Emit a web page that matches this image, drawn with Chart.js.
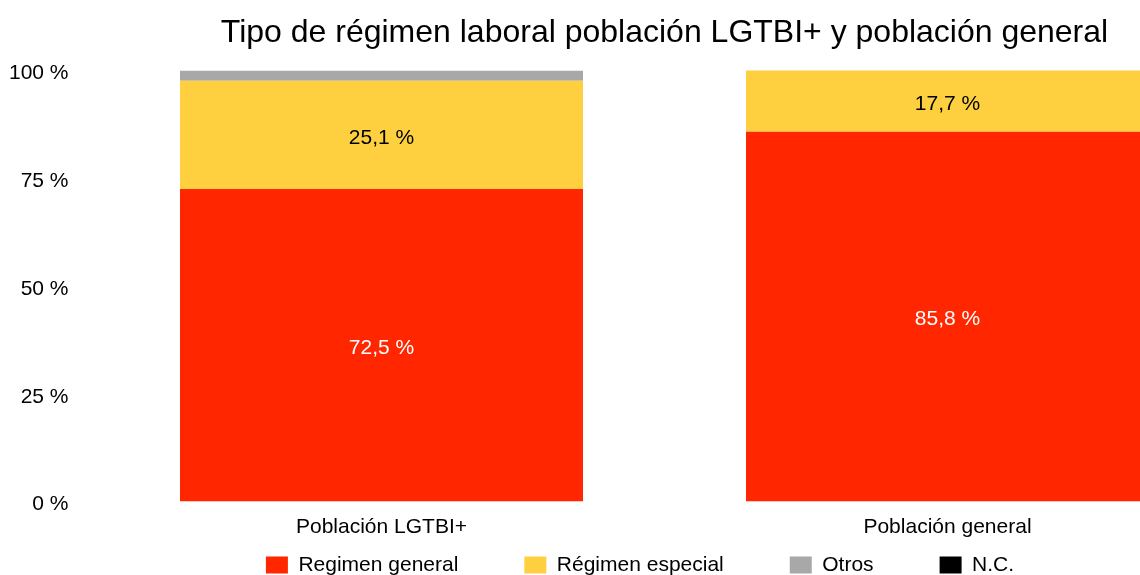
<!DOCTYPE html>
<html><head><meta charset="utf-8">
<script src="https://cdn.jsdelivr.net/npm/chart.js@4.4.0/dist/chart.umd.min.js"></script>
<style>html,body{margin:0;padding:0;overflow:hidden;background:#fff}#wrap{position:absolute;left:0;top:0;width:1280px;height:575px}</style>
</head><body><div id="wrap"><canvas id="c" width="1280" height="575"></canvas></div>
<script>
const categories = ['Población LGTBI+', 'Población general'];
const regimenGeneral = [72.5, 85.8];
const regimenEspecial = [25.1, 17.7];
const otros = [2.4, 0];
const noContesta = [0, 0];
const yTicks = [0, 25, 50, 75, 100];
const seriesNames = ['Regimen general', 'Régimen especial', 'Otros', 'N.C.'];
const titleText = 'Tipo de régimen laboral población LGTBI+ y población general';

const FONT = '"Liberation Sans", Arial, Helvetica, sans-serif';
const fmt = v => v.toFixed(1).replace('.', ',') + ' %';

const valueLabels = {
  id: 'valueLabels',
  afterDatasetsDraw(chart) {
    const {ctx, chartArea} = chart;
    ctx.save();
    ctx.font = '21px ' + FONT;
    ctx.textAlign = 'center';
    ctx.textBaseline = 'middle';
    chart.data.datasets.forEach((ds, di) => {
      const meta = chart.getDatasetMeta(di);
      if (meta.hidden) return;
      meta.data.forEach((bar, i) => {
        const v = ds.data[i];
        if (!v || v < 5) return;
        const top = Math.max(Math.min(bar.y, bar.base), chartArea.top);
        const bottom = Math.min(Math.max(bar.y, bar.base), chartArea.bottom);
        if (bottom - top < 10) return;
        ctx.fillStyle = ds.labelColor;
        ctx.fillText(fmt(v), bar.x, (top + bottom) / 2 + 3);
      });
    });
    ctx.restore();
  }
};

const legendPlacement = {
  id: 'legendPlacement',
  afterLayout(chart) {
    const lg = chart.legend;
    if (!lg) return;
    const pad = lg.options.labels.padding;
    const rowTop = lg.top + 16.5;
    lg.top = rowTop - pad;
    lg.height = lg.bottom - lg.top;
  }
};

new Chart(document.getElementById('c'), {
  type: 'bar',
  data: {
    labels: categories,
    datasets: [
      {label: seriesNames[0], data: regimenGeneral, backgroundColor: '#FF2600', labelColor: '#ffffff', clip: 0},
      {label: seriesNames[1], data: regimenEspecial, backgroundColor: '#FED03F', labelColor: '#000000', clip: 0},
      {label: seriesNames[2], data: otros, backgroundColor: '#A8A8A8', labelColor: '#000000', clip: 0},
      {label: seriesNames[3], data: noContesta, backgroundColor: '#000000', labelColor: '#ffffff', clip: 0}
    ]
  },
  options: {
    responsive: false,
    animation: false,
    devicePixelRatio: 1,
    layout: {padding: 0},
    datasets: {bar: {categoryPercentage: 0.8, barPercentage: 0.89, borderWidth: 0}},
    scales: {
      x: {
        stacked: true,
        afterFit: s => { s.height = 36.5; },
        grid: {display: false, drawTicks: false},
        border: {display: false},
        ticks: {padding: 13, color: '#000', font: {size: 21, family: FONT}}
      },
      y: {
        stacked: true, min: 0, max: 100,
        afterFit: s => { s.width = 98.5; },
        afterBuildTicks: s => { s.ticks = yTicks.map(v => ({value: v})); },
        grid: {display: false, drawTicks: false},
        border: {display: false},
        ticks: {padding: 30, labelOffset: 3, color: '#000', font: {size: 21, family: FONT}, callback: v => v + ' %'}
      },
      yR: {
        position: 'right', display: true,
        grid: {display: false, drawTicks: false},
        border: {display: false},
        ticks: {display: false},
        afterFit: s => { s.width = 49.5; }
      }
    },
    plugins: {
      title: {
        display: true, text: titleText, fullSize: false, color: '#000',
        font: {size: 32, family: FONT, weight: 'normal'},
        padding: {top: 13.7, bottom: 18.4}
      },
      legend: {
        position: 'bottom', fullSize: true, maxHeight: 37,
        labels: {boxWidth: 22, boxHeight: 17, padding: 66, color: '#000', font: {size: 21, family: FONT}}
      },
      tooltip: {enabled: false}
    }
  },
  plugins: [valueLabels, legendPlacement]
});
</script>
</body></html>
